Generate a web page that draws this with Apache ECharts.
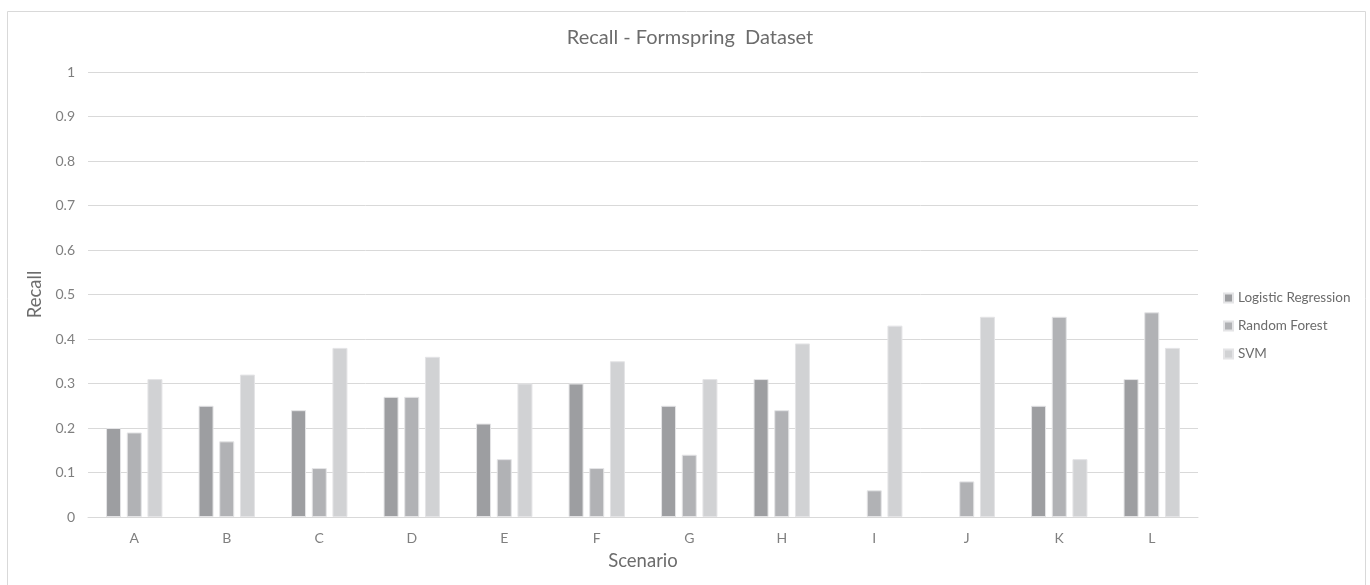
<!DOCTYPE html>
<html>
<head>
<meta charset="utf-8">
<script src="https://cdn.jsdelivr.net/npm/echarts@6/dist/echarts.min.js"></script>
<style>
  html, body { margin: 0; padding: 0; background: #fff; }
  #chart { width: 1370px; height: 585px; }
</style>
</head>
<body>
<div id="chart"></div>
<script>
// Recall per scenario for three classifiers on the Formspring dataset
const scenarios = ['A', 'B', 'C', 'D', 'E', 'F', 'G', 'H', 'I', 'J', 'K', 'L'];
const logisticRegression = [0.20, 0.25, 0.24, 0.27, 0.21, 0.30, 0.25, 0.31, 0, 0, 0.25, 0.31];
const randomForest = [0.19, 0.17, 0.11, 0.27, 0.13, 0.11, 0.14, 0.24, 0.06, 0.08, 0.45, 0.46];
const svm = [0.31, 0.32, 0.38, 0.36, 0.30, 0.35, 0.31, 0.39, 0.43, 0.45, 0.13, 0.38];
const seriesNames = ['Logistic Regression', 'Random Forest', 'SVM'];
const seriesColors = ['#9d9ea1', '#b1b2b5', '#d1d2d4'];

const FONT = 'Lato, "Open Sans", sans-serif';
const TITLE_TEXT = '#6c6c6c';
const LABEL_TEXT = '#7f7f7f';

const chart = echarts.init(document.getElementById('chart'), null, { renderer: 'canvas' });

function barSeries(name, values, color) {
  return {
    name: name,
    type: 'bar',
    // zero-height bars get no outline so nothing is drawn for them
    data: values.map(function (v) {
      return { value: v, itemStyle: { borderWidth: v === 0 ? 0 : 1 } };
    }),
    barWidth: 15,
    barGap: '38%',
    itemStyle: { color: color, borderColor: '#e4e4e6', borderWidth: 1 }
  };
}

chart.setOption({
  animation: false,
  backgroundColor: '#ffffff',
  graphic: [{
    type: 'rect',
    shape: { x: 7.5, y: 11.5, width: 1358, height: 600 },
    style: { fill: 'none', stroke: '#d9d9d9', lineWidth: 1 },
    z: -1
  }],
  title: {
    text: 'Recall - Formspring  Dataset',
    left: 685,
    top: 23,
    textAlign: 'center',
    textStyle: { fontFamily: FONT, fontSize: 20, fontWeight: 'normal', color: TITLE_TEXT }
  },
  legend: {
    orient: 'vertical',
    left: 1218,
    top: 286,
    itemWidth: 9,
    itemHeight: 9,
    itemGap: 14,
    icon: 'rect',
    data: seriesNames,
    textStyle: { fontFamily: FONT, fontSize: 13.5, color: TITLE_TEXT }
  },
  grid: { left: 88, right: 172, top: 72, bottom: 68, containLabel: false },
  xAxis: {
    type: 'category',
    data: scenarios,
    name: 'Scenario',
    nameLocation: 'middle',
    nameGap: 35,
    nameTextStyle: { fontFamily: FONT, fontSize: 18.5, color: TITLE_TEXT },
    axisLine: { lineStyle: { color: '#d9d9d9', width: 1 } },
    axisTick: { show: false },
    axisLabel: { fontFamily: FONT, fontSize: 14, color: LABEL_TEXT, margin: 14 }
  },
  yAxis: {
    type: 'value',
    min: 0,
    max: 1,
    interval: 0.1,
    name: 'Recall',
    nameLocation: 'middle',
    nameGap: 40,
    nameRotate: 90,
    nameTextStyle: { fontFamily: FONT, fontSize: 18.5, color: TITLE_TEXT },
    axisLine: { show: false },
    axisTick: { show: false },
    axisLabel: {
      fontFamily: FONT, fontSize: 14, color: LABEL_TEXT, margin: 13,
      formatter: function (v) { return String(Math.round(v * 10) / 10); }
    },
    splitLine: { lineStyle: { color: '#d9d9d9', width: 1 } }
  },
  series: [
    barSeries(seriesNames[0], logisticRegression, seriesColors[0]),
    barSeries(seriesNames[1], randomForest, seriesColors[1]),
    barSeries(seriesNames[2], svm, seriesColors[2])
  ]
});
</script>
</body>
</html>
